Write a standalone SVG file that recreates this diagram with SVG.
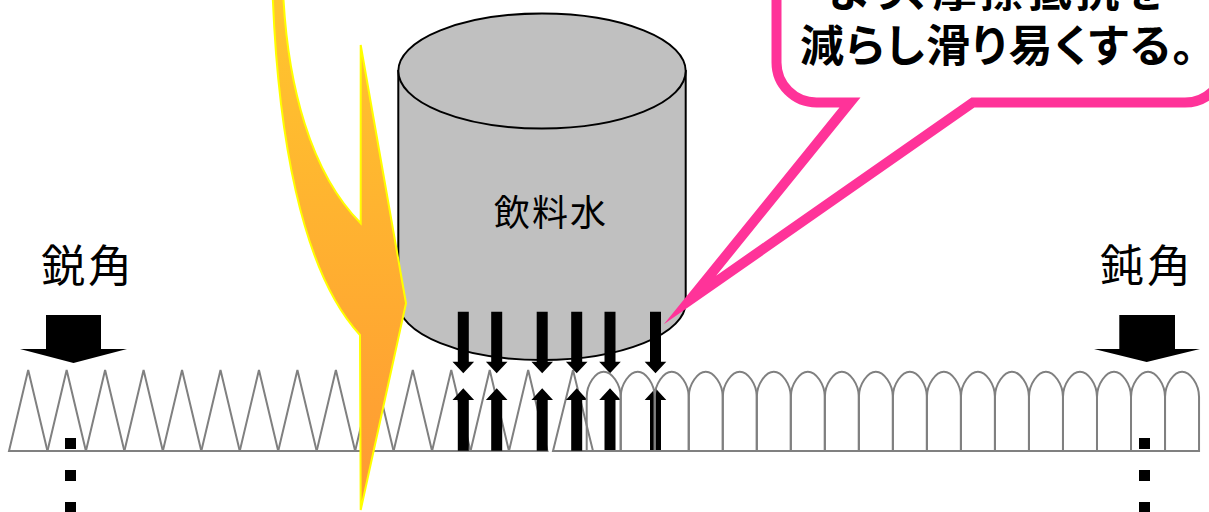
<svg xmlns="http://www.w3.org/2000/svg" width="1209" height="512" viewBox="0 0 1209 512">
  <defs>
    <style>
      .edge { fill: none; stroke: #808080; stroke-width: 2; stroke-linejoin: miter; }
      .blk { fill: #000; stroke: none; }
      .jp { font-family: "Noto Sans CJK JP", "Noto Sans", sans-serif; fill: #000; }
      .lbl { font-size: 44px; }
      .note { font-size: 44px; font-weight: bold; font-feature-settings: "palt"; }
    </style>
    <linearGradient id="boltFill" x1="0" y1="0" x2="0" y2="510" gradientUnits="userSpaceOnUse">
      <stop offset="0" stop-color="#FFC62E"/>
      <stop offset="1" stop-color="#FF9933"/>
    </linearGradient>
    <!-- small pressure arrows, tip at origin -->
    <path id="arrDown" d="M-5.5,-61.6 H5.5 V-11.6 H10.8 L0,0 L-10.8,-11.6 H-5.5 Z"/>
    <path id="arrUp" d="M-5.5,62.4 H5.5 V11.7 H10.8 L0,0 L-10.8,11.7 H-5.5 Z"/>
    <!-- one rounded (obtuse) tooth -->
    <path id="arch" d="M0,451 V397 C0,384 9,371.7 17,371.7 C25,371.7 34,384 34,397 V451 Z"/>
    <!-- one sharp (acute) tooth -->
    <path id="tri" d="M0,451 L19.2,370 L38.46,451 Z"/>
  </defs>

  <!-- acute surface -->
  <g id="acute-surface">
    <use href="#tri" x="9" class="edge"/>
    <use href="#tri" x="47.46" class="edge"/>
    <use href="#tri" x="85.92" class="edge"/>
    <use href="#tri" x="124.38" class="edge"/>
    <use href="#tri" x="162.84" class="edge"/>
    <use href="#tri" x="201.3" class="edge"/>
    <use href="#tri" x="239.76" class="edge"/>
    <use href="#tri" x="278.22" class="edge"/>
    <use href="#tri" x="316.68" class="edge"/>
    <use href="#tri" x="355.14" class="edge"/>
    <use href="#tri" x="393.6" class="edge"/>
    <use href="#tri" x="432.06" class="edge"/>
    <use href="#tri" x="470.52" class="edge"/>
    <use href="#tri" x="508.98" class="edge"/>
    <path class="edge" d="M553,451 L573,370 L593,451 Z"/>
  </g>

  <!-- drinking-water container -->
  <g id="container">
    <path d="M398.3,71 V302.5 A143.7,57.5 0 0 0 685.7,302.5 V71 Z" fill="#C0C0C0" stroke="#000" stroke-width="2"/>
    <ellipse cx="542" cy="71" rx="143.7" ry="57.5" fill="#C0C0C0" stroke="#000" stroke-width="2"/>
    <text class="jp" x="494" y="225.5" font-size="36" letter-spacing="2">飲料水</text>
  </g>

  <!-- speech balloon -->
  <g id="balloon">
    <path d="M850,102.5 H816.5 A40,40 0 0 1 776.5,62.5 V-80 H1225 V62.5 A40,40 0 0 1 1185,102.5 H973 L690,300 Z"
          fill="#fff" stroke="#FF3399" stroke-width="10" stroke-linejoin="miter" stroke-miterlimit="12"/>
    <text class="jp note" x="997" y="7" text-anchor="middle" textLength="336" lengthAdjust="spacing">より、摩擦抵抗を</text>
    <text class="jp note" x="997" y="62" text-anchor="middle" textLength="394" lengthAdjust="spacing">減らし滑り易くする。</text>
  </g>

  <!-- lightning bolt -->
  <g id="bolt">
    <path d="M272.7,-4 C278,130 300,270 360,335 L360.7,510 L406,303.3 L360.7,45 L360.7,223.3 C310,172 288,85 283.3,-4 Z"
          fill="url(#boltFill)" stroke="#FFFF00" stroke-width="2" stroke-linejoin="miter"/>
  </g>

  <!-- pressure arrows -->
  <g id="connectors">
    <use href="#arrDown" x="463.3" y="373.3" class="blk"/>
    <use href="#arrDown" x="496.7" y="373.3" class="blk"/>
    <use href="#arrDown" x="542.2" y="373.3" class="blk"/>
    <use href="#arrDown" x="576.7" y="373.3" class="blk"/>
    <use href="#arrDown" x="610" y="373.3" class="blk"/>
    <use href="#arrDown" x="655.5" y="373.3" class="blk"/>
    <use href="#arrUp" x="463.3" y="388.3" class="blk"/>
    <use href="#arrUp" x="496.7" y="388.3" class="blk"/>
    <use href="#arrUp" x="542.2" y="388.3" class="blk"/>
    <use href="#arrUp" x="576.7" y="388.3" class="blk"/>
    <use href="#arrUp" x="610" y="388.3" class="blk"/>
    <use href="#arrUp" x="655.5" y="388.3" class="blk"/>
  </g>

  <!-- obtuse surface -->
  <g id="obtuse-surface">
    <use href="#arch" x="586.7" class="edge"/>
    <use href="#arch" x="620.72" class="edge"/>
    <use href="#arch" x="654.74" class="edge"/>
    <use href="#arch" x="688.76" class="edge"/>
    <use href="#arch" x="722.78" class="edge"/>
    <use href="#arch" x="756.8" class="edge"/>
    <use href="#arch" x="790.82" class="edge"/>
    <use href="#arch" x="824.84" class="edge"/>
    <use href="#arch" x="858.86" class="edge"/>
    <use href="#arch" x="892.88" class="edge"/>
    <use href="#arch" x="926.9" class="edge"/>
    <use href="#arch" x="960.92" class="edge"/>
    <use href="#arch" x="994.94" class="edge"/>
    <use href="#arch" x="1028.96" class="edge"/>
    <use href="#arch" x="1062.98" class="edge"/>
    <use href="#arch" x="1097" class="edge"/>
    <use href="#arch" x="1131.02" class="edge"/>
    <use href="#arch" x="1165.04" class="edge"/>
  </g>

  <!-- acute label and load arrow -->
  <g id="acute-label">
    <text class="jp lbl" x="41" y="282" letter-spacing="3">鋭角</text>
    <path class="blk" d="M46,315 H101 V349 H127 L73.5,363 L20,349 H46 Z"/>
    <rect class="blk" x="65" y="438" width="11" height="11"/>
    <rect class="blk" x="65" y="470" width="11" height="11"/>
    <rect class="blk" x="65" y="502" width="11" height="11"/>
  </g>

  <!-- obtuse label and load arrow -->
  <g id="obtuse-label">
    <text class="jp lbl" x="1100" y="282" letter-spacing="3">鈍角</text>
    <path class="blk" d="M1119.3,315 H1175 V349 H1200 L1146.7,362 L1094,349 H1119.3 Z"/>
    <rect class="blk" x="1139" y="438" width="11" height="11"/>
    <rect class="blk" x="1139" y="470" width="11" height="11"/>
    <rect class="blk" x="1139" y="502" width="11" height="11"/>
  </g>
</svg>
